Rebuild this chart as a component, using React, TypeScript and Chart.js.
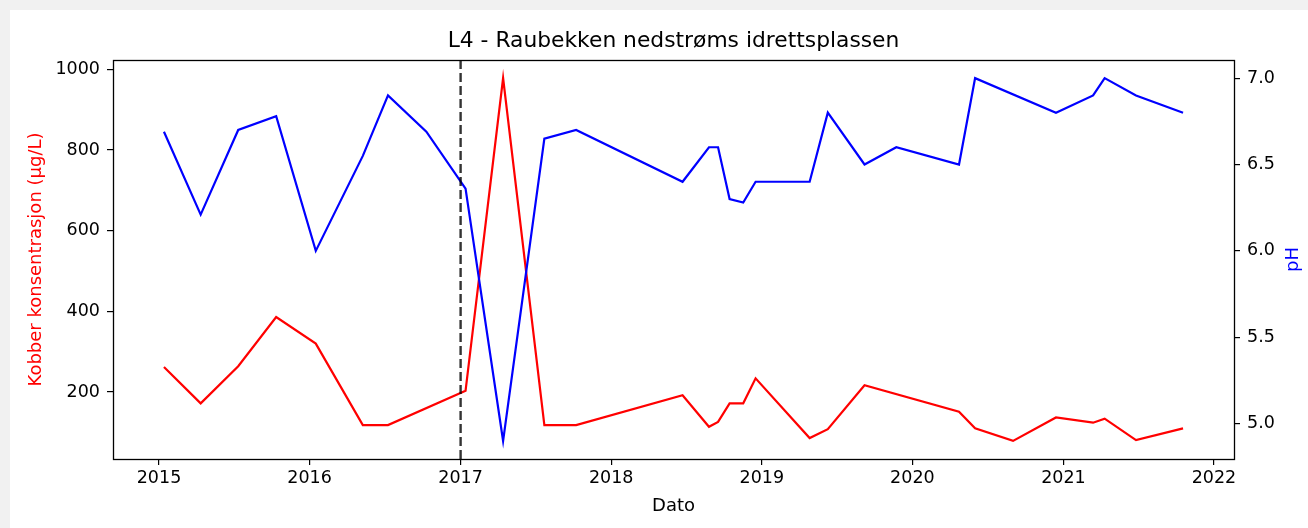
import React, { useEffect, useRef } from "react";
import { Chart, registerables } from "chart.js";

Chart.register(...registerables);

// ---------- data ----------
const chartTitle = "L4 - Raubekken nedstrøms idrettsplassen";
const xTitle = "Dato";
const copperTitle = "Kobber konsentrasjon (µg/L)";
const phTitle = "pH";

const copperDates = [
  "2015-01-13", "2015-04-12", "2015-07-12", "2015-10-12", "2016-01-16", "2016-05-09",
  "2016-07-09", "2017-01-13", "2017-04-14", "2017-07-23", "2017-10-08", "2018-06-23",
  "2018-08-26", "2018-09-17", "2018-10-15", "2018-11-17", "2018-12-17", "2019-04-27",
  "2019-06-10", "2019-09-07", "2020-04-23", "2020-06-01", "2020-09-01", "2020-12-14",
  "2021-03-14", "2021-04-11", "2021-06-26", "2021-10-18",
];
const copperValues = [
  262, 172, 264, 386, 320, 118,
  118, 203, 978, 118, 118, 192,
  114, 126, 172, 172, 234, 86,
  108, 217, 151, 110, 79, 137,
  124, 134, 81, 110,
];

const phDates = [
  "2015-01-13", "2015-04-12", "2015-07-12", "2015-10-12", "2016-01-16", "2016-05-09",
  "2016-07-09", "2016-10-10", "2017-01-13", "2017-04-14", "2017-07-23", "2017-10-08",
  "2018-06-23", "2018-08-26", "2018-09-17", "2018-10-15", "2018-11-17", "2018-12-17",
  "2019-04-27", "2019-06-10", "2019-09-07", "2019-11-23", "2020-04-23", "2020-06-01",
  "2020-12-14", "2021-03-14", "2021-04-11", "2021-06-26", "2021-10-18",
];
const phValues = [
  6.69, 6.21, 6.7, 6.78, 6.0, 6.55,
  6.9, 6.69, 6.36, 4.9, 6.65, 6.7,
  6.4, 6.6, 6.6, 6.3, 6.28, 6.4,
  6.4, 6.8, 6.5, 6.6, 6.5, 7.0,
  6.8, 6.9, 7.0, 6.9, 6.8,
];

const yearTicks = [2015, 2016, 2017, 2018, 2019, 2020, 2021, 2022];
const copperTicks = [200, 400, 600, 800, 1000];
const phTicks = [5.0, 5.5, 6.0, 6.5, 7.0];
const markerDate = "2017-01-01";

// ---------- helpers ----------
const DAY = 86400000;
const toDay = (s: string) => {
  const [y, m, d] = s.split("-").map(Number);
  return Date.UTC(y, m - 1, d) / DAY;
};
const withMargin = (vals: number[]) => {
  const mn = Math.min(...vals);
  const mx = Math.max(...vals);
  const r = mx - mn;
  return [mn - 0.05 * r, mx + 0.05 * r];
};

const FONT = "DejaVu Sans";
const TICK_SIZE = 17.5;
const LABEL_SIZE = 18;
const TITLE_SIZE = 21.8;

export default function App() {
  const ref = useRef<HTMLCanvasElement>(null);

  useEffect(() => {
    document.body.style.margin = "0";
    const canvas = ref.current;
    if (!canvas) return;

    const allDays = [...copperDates, ...phDates].map(toDay);
    const [xMin, xMax] = withMargin(allDays);
    const [cMin, cMax] = withMargin(copperValues);
    const [pMin, pMax] = withMargin(phValues);

    const decor = {
      id: "decor",
      beforeDraw(chart: any) {
        const c = chart.ctx;
        c.save();
        c.fillStyle = "#f1f1f1";
        c.fillRect(0, 0, chart.width, chart.height);
        c.fillStyle = "#ffffff";
        c.fillRect(10, 10, chart.width - 10, chart.height - 10);
        c.restore();
      },
      afterDatasetsDraw(chart: any) {
        const c = chart.ctx;
        const a = chart.chartArea;
        const xs = chart.scales.x;
        const px = xs.getPixelForValue(toDay(markerDate));
        c.save();
        c.strokeStyle = "rgba(0,0,0,0.8)";
        c.lineWidth = 2.4;
        c.setLineDash([9, 4]);
        c.beginPath();
        c.moveTo(px, a.top);
        c.lineTo(px, a.bottom);
        c.stroke();
        c.setLineDash([]);
        c.strokeStyle = "#000";
        c.lineWidth = 1.3;
        c.strokeRect(a.left + 0.5, a.top + 0.5, a.right - a.left, a.bottom - a.top);
        c.restore();
      },
      afterDraw(chart: any) {
        const c = chart.ctx;
        const a = chart.chartArea;
        const cx = (a.left + a.right) / 2;
        const cy = (a.top + a.bottom) / 2;
        c.save();
        c.fillStyle = "#000";
        c.textAlign = "center";
        c.textBaseline = "alphabetic";
        c.font = `${TITLE_SIZE}px "${FONT}"`;
        c.fillText(chartTitle, cx, 46.5);
        c.font = `${LABEL_SIZE}px "${FONT}"`;
        c.fillText(xTitle, cx, 511);
        c.save();
        c.translate(41, cy);
        c.rotate(-Math.PI / 2);
        c.fillStyle = "#ff0000";
        c.fillText(copperTitle, 0, 0);
        c.restore();
        c.save();
        c.translate(1297.5, cy);
        c.rotate(-Math.PI / 2);
        c.fillStyle = "#0000ff";
        c.fillText(phTitle, 0, 0);
        c.restore();
        c.restore();
      },
    };

    const tickFont = { family: FONT, size: TICK_SIZE };
    const gridCfg = {
      drawOnChartArea: false,
      drawTicks: true,
      tickLength: 6,
      color: "#000",
      lineWidth: 1.2,
    };

    const chart = new Chart(canvas, {
      type: "line",
      data: {
        datasets: [
          {
            label: phTitle,
            data: phDates.map((d, i) => ({ x: toDay(d), y: phValues[i] })),
            borderColor: "#0000ff",
            backgroundColor: "#0000ff",
            borderWidth: 2.2,
            pointRadius: 0,
            tension: 0,
            yAxisID: "y1",
          },
          {
            label: copperTitle,
            data: copperDates.map((d, i) => ({ x: toDay(d), y: copperValues[i] })),
            borderColor: "#ff0000",
            backgroundColor: "#ff0000",
            borderWidth: 2.2,
            pointRadius: 0,
            tension: 0,
            yAxisID: "y",
          },
        ],
      },
      options: {
        animation: false,
        responsive: false,
        events: [],
        layout: { padding: { top: 60, left: 0, right: 0, bottom: 0 } },
        plugins: {
          legend: { display: false },
          title: { display: false },
          tooltip: { enabled: false },
        },
        scales: {
          x: {
            type: "linear",
            min: xMin,
            max: xMax,
            grid: gridCfg,
            border: { display: false },
            afterBuildTicks: (s: any) => {
              s.ticks = yearTicks.map((y) => ({ value: Date.UTC(y, 0, 1) / DAY }));
            },
            afterFit: (s: any) => {
              s.height = 69;
            },
            ticks: {
              font: tickFont,
              color: "#000",
              padding: 3,
              maxRotation: 0,
              autoSkip: false,
              callback: (v: any) => String(new Date(Number(v) * DAY).getUTCFullYear()),
            },
          },
          y: {
            type: "linear",
            position: "left",
            min: cMin,
            max: cMax,
            grid: gridCfg,
            border: { display: false },
            afterBuildTicks: (s: any) => {
              s.ticks = copperTicks.map((v) => ({ value: v }));
            },
            afterFit: (s: any) => {
              s.width = 113;
            },
            ticks: {
              font: tickFont,
              color: "#000",
              padding: 7,
              callback: (v: any) => String(v),
            },
          },
          y1: {
            type: "linear",
            position: "right",
            min: pMin,
            max: pMax,
            grid: gridCfg,
            border: { display: false },
            afterBuildTicks: (s: any) => {
              s.ticks = phTicks.map((v) => ({ value: v }));
            },
            afterFit: (s: any) => {
              s.width = 74;
            },
            ticks: {
              font: tickFont,
              color: "#000",
              padding: 7,
              callback: (v: any) => Number(v).toFixed(1),
            },
          },
        },
      },
      plugins: [decor],
    } as any);

    return () => chart.destroy();
  }, []);

  return (
    <div style={{ position: "fixed", left: 0, top: 0, width: 1308, height: 528 }}>
      <canvas ref={ref} width={1308} height={528} style={{ display: "block", width: 1308, height: 528 }} />
    </div>
  );
}
